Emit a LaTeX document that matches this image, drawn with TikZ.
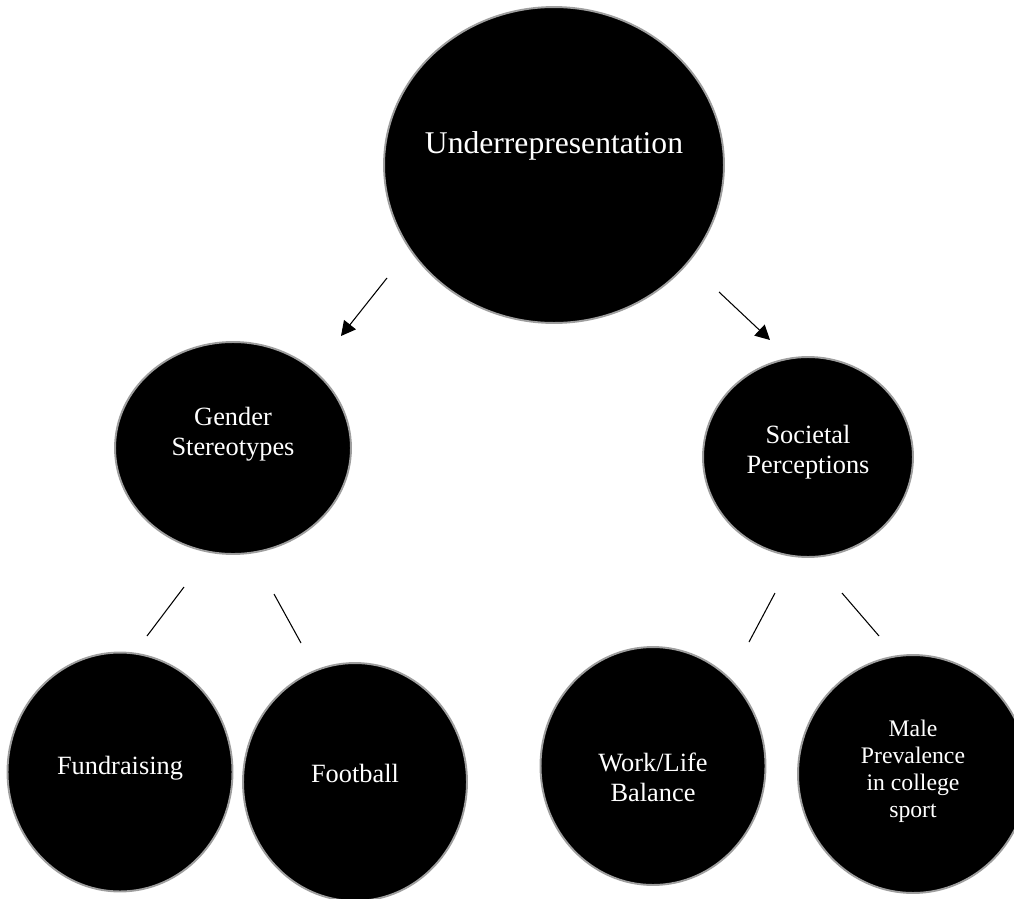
\documentclass[tikz,border=0pt]{standalone}
\usepackage{fontspec}
\setmainfont{Liberation Serif}
\usetikzlibrary{shapes.geometric,arrows.meta,positioning}

\begin{document}
\begin{tikzpicture}[x=0.02cm,y=-0.02cm,
    blob/.style={ellipse,fill=black,draw=black!38,line width=1.1pt,inner sep=0pt,
        text=white,align=center,font=\fontsize{15}{17}\selectfont,text height=0.5cm},
    arr/.style={line width=0.6pt,-{Triangle[length=2.9mm,width=3mm]}},
    link/.style={line width=0.6pt}]
        \useasboundingbox (0,0) rectangle (1014,899);
        %nodes
        \node[blob,minimum width=6.8cm,minimum height=6.32cm,inner xsep=-0.3cm,text depth=0.98cm,
            font=\fontsize{18}{20}\selectfont] (under) at (554,165) {Underrepresentation};
        \node[blob,minimum width=4.72cm,minimum height=4.24cm,text height=1cm,text depth=0.72cm] (gender) at (233,448) {Gender\\Stereotypes};
        \node[blob,minimum width=4.2cm,minimum height=4cm,text height=1cm,text depth=0.36cm] (societal) at (808,457) {Societal\\Perceptions};
        \node[blob,minimum width=4.5cm,minimum height=4.78cm,text depth=0.4cm] (fund) at (120,772) {Fundraising};
        \node[blob,minimum width=4.48cm,minimum height=4.76cm,text depth=0.5cm] (football) at (355,782) {Football};
        \node[blob,minimum width=4.5cm,minimum height=4.76cm,text height=2cm,text depth=0.6cm] (work) at (653,766) {Work/Life\\Balance};
        \node[blob,minimum width=4.6cm,minimum height=4.76cm,text height=2.2cm,text depth=0.48cm,
            font=\fontsize{13.5}{15.3}\selectfont] (male) at (913,774) {Male\\Prevalence\\in college\\sport};

        %connector ends
        \coordinate (under-l) at (387,278);
        \coordinate (gender-t) at (341,336);
        \coordinate (under-r) at (719,292);
        \coordinate (societal-t) at (770,340);
        \coordinate (gender-bl) at (184,587);
        \coordinate (fund-t) at (147,636);
        \coordinate (gender-br) at (274,594);
        \coordinate (football-t) at (301,643);
        \coordinate (societal-bl) at (775,593);
        \coordinate (work-t) at (749,642);
        \coordinate (societal-br) at (842,593);
        \coordinate (male-t) at (879,636);

        %arrows
        \draw[arr] (under-l) -- (gender-t);
        \draw[arr] (under-r) -- (societal-t);
        \draw[link] (gender-bl) -- (fund-t);
        \draw[link] (gender-br) -- (football-t);
        \draw[link] (societal-bl) -- (work-t);
        \draw[link] (societal-br) -- (male-t);
\end{tikzpicture}
\end{document}
